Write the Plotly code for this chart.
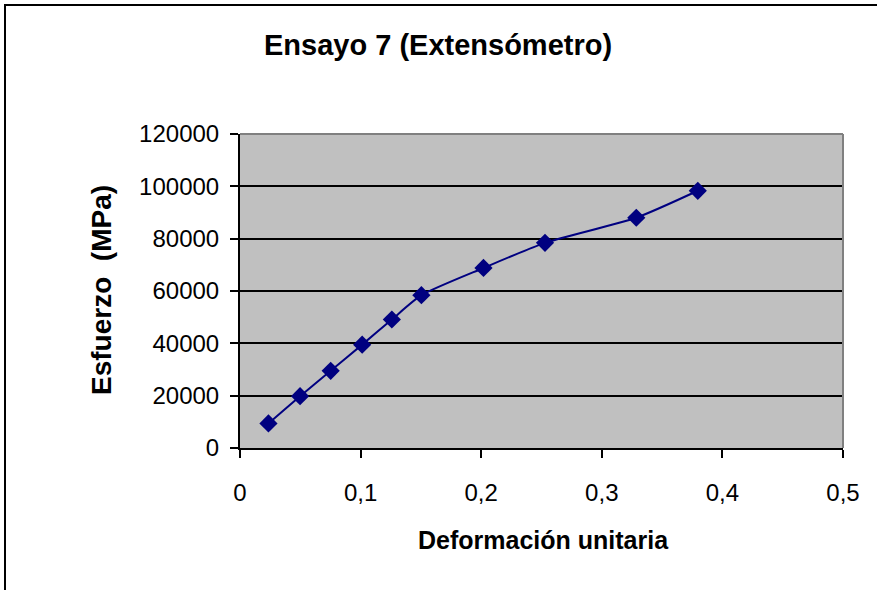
import plotly.graph_objects as go

deformacion = [0.0236, 0.0498, 0.0752, 0.1013, 0.1259, 0.1504, 0.2019, 0.2529, 0.3286, 0.3796]
esfuerzo = [9400, 19800, 29500, 39500, 49100, 58400, 68800, 78400, 88000, 98300]

x_tickvals = [0, 0.1, 0.2, 0.3, 0.4, 0.5]
x_ticktext = ["0", "0,1", "0,2", "0,3", "0,4", "0,5"]
y_tickvals = [0, 20000, 40000, 60000, 80000, 100000, 120000]
y_ticktext = ["0", "20000", "40000", "60000", "80000", "100000", "120000"]

FONT = "Liberation Sans, Arial, sans-serif"

W, H = 877, 590
L = 240
T = 134
R = W - 843
B = H - 448
pw = W - L - R
ph = H - T - B

def px_x(px):
    return (px - L) / pw

def px_y(py):
    return (H - B - py) / ph

fig = go.Figure()
fig.add_trace(go.Scatter(
    x=deformacion, y=esfuerzo, mode="lines+markers",
    line=dict(color="#000080", width=2, shape="spline", smoothing=0.6),
    marker=dict(symbol="diamond", size=14, color="#000080"),
    showlegend=False,
))

fig.update_layout(
    width=W, height=H,
    margin=dict(l=L, r=R, t=T, b=B),
    paper_bgcolor="white",
    plot_bgcolor="#C0C0C0",
    font=dict(family=FONT, color="black"),
    xaxis=dict(
        range=[0, 0.5], tickvals=x_tickvals, ticktext=x_ticktext,
        showgrid=False, zeroline=False, showline=True, linecolor="black", linewidth=2,
        ticks="outside", ticklen=8, tickwidth=2, tickcolor="black",
        tickfont=dict(size=24, family=FONT), ticklabelstandoff=14,
    ),
    yaxis=dict(
        range=[0, 120000], tickvals=y_tickvals, ticktext=y_ticktext,
        showgrid=True, gridcolor="black", gridwidth=2, zeroline=False,
        showline=True, linecolor="black", linewidth=2,
        ticks="outside", ticklen=8, tickwidth=2, tickcolor="black",
        tickfont=dict(size=24, family=FONT), ticklabelstandoff=6,
    ),
    annotations=[
        dict(text="<b>Ensayo 7 (Extensómetro)</b>", xref="paper", yref="paper",
             x=px_x(437.5), y=px_y(45), showarrow=False, xanchor="center", yanchor="middle",
             font=dict(size=29, family=FONT)),
        dict(text="<b>Deformación unitaria</b>", xref="paper", yref="paper",
             x=px_x(543.5), y=px_y(540), showarrow=False, xanchor="center", yanchor="middle",
             font=dict(size=25, family=FONT)),
        dict(text="<b>Esfuerzo\u00a0\u00a0(MPa)</b>", xref="paper", yref="paper",
             x=px_x(101), y=px_y(290), showarrow=False, xanchor="center", yanchor="middle",
             textangle=-90, font=dict(size=28, family=FONT)),
    ],
    shapes=[
        dict(type="line", xref="paper", yref="paper", x0=0, x1=1, y0=1, y1=1,
             line=dict(color="#808080", width=2), layer="above"),
        dict(type="line", xref="paper", yref="paper", x0=1, x1=1, y0=0, y1=1,
             line=dict(color="#808080", width=2), layer="above"),
        dict(type="rect", xref="paper", yref="paper", x0=px_x(5), x1=px_x(900),
             y0=px_y(620), y1=px_y(5), line=dict(color="black", width=2), layer="above"),
    ],
)

fig.write_html(
    "out.html",
    config={"displayModeBar": False},
    post_script="document.body.style.margin='0';document.body.style.overflow='hidden';",
)
